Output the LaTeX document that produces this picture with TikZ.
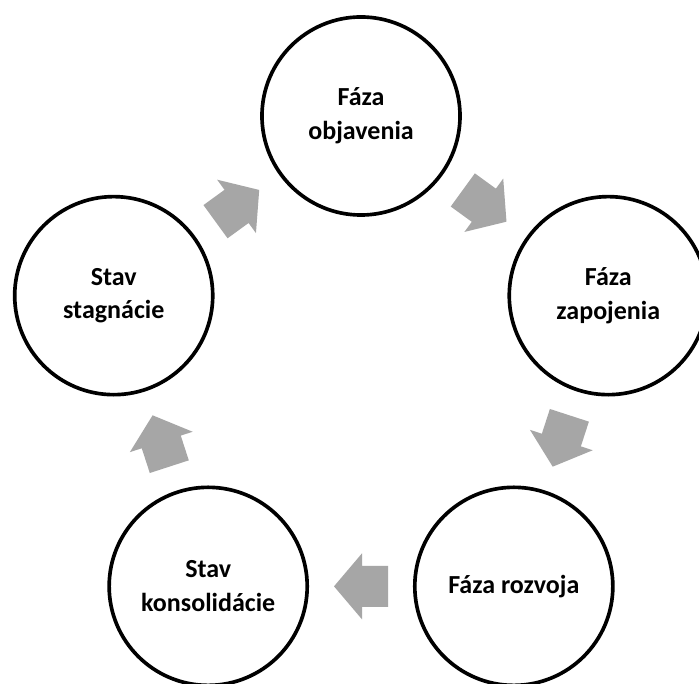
\documentclass[tikz,border=0pt]{standalone}
\usepackage{fontspec}
\setmainfont{Carlito}
\usetikzlibrary{calc}

\definecolor{sipkagray}{HTML}{A6A6A6}

\tikzset{
	faza/.style={circle, draw=black, line width=2.6pt, fill=white, minimum size=4.95cm, inner sep=0pt,
		align=center, font=\bfseries\fontsize{18.5}{24}\selectfont},
	sipka/.pic={
		\fill[sipkagray] (-27,-20.5) -- (-1,-20.5) -- (-1,-33) -- (27,0) -- (-1,33) -- (-1,20.5) -- (-27,20.5) -- cycle;
	}
}

\begin{document}
\begin{tikzpicture}[x=0.025cm, y=0.025cm]

			\fill[white] (0,0) rectangle (699,684);
			\useasboundingbox (0,0) rectangle (699,684);

			\coordinate (stred) at (361,308);

			% kruhy
			\node[faza] (objav) at ($(stred)+(90:260)$) {Fáza\\objavenia};
			\node[faza] (zapoj) at ($(stred)+(18:260)$) {Fáza\\zapojenia};
			\node[faza] (rozvoj) at ($(stred)+(-54:260)$) {Fáza rozvoja};
			\node[faza] (konsol) at ($(stred)+(-126:260)$) {Stav\\konsolidácie};
			\node[faza] (stagn) at ($(stred)+(162:260)$) {Stav\\stagnácie};

			% sipky
			\foreach \a/\b/\uhol in {objav/zapoj/-36, zapoj/rozvoj/-108, rozvoj/konsol/180, konsol/stagn/108, stagn/objav/36}
				\path ($(\a)!0.5!(\b)$) pic[rotate=\uhol] {sipka};

\end{tikzpicture}
\end{document}
